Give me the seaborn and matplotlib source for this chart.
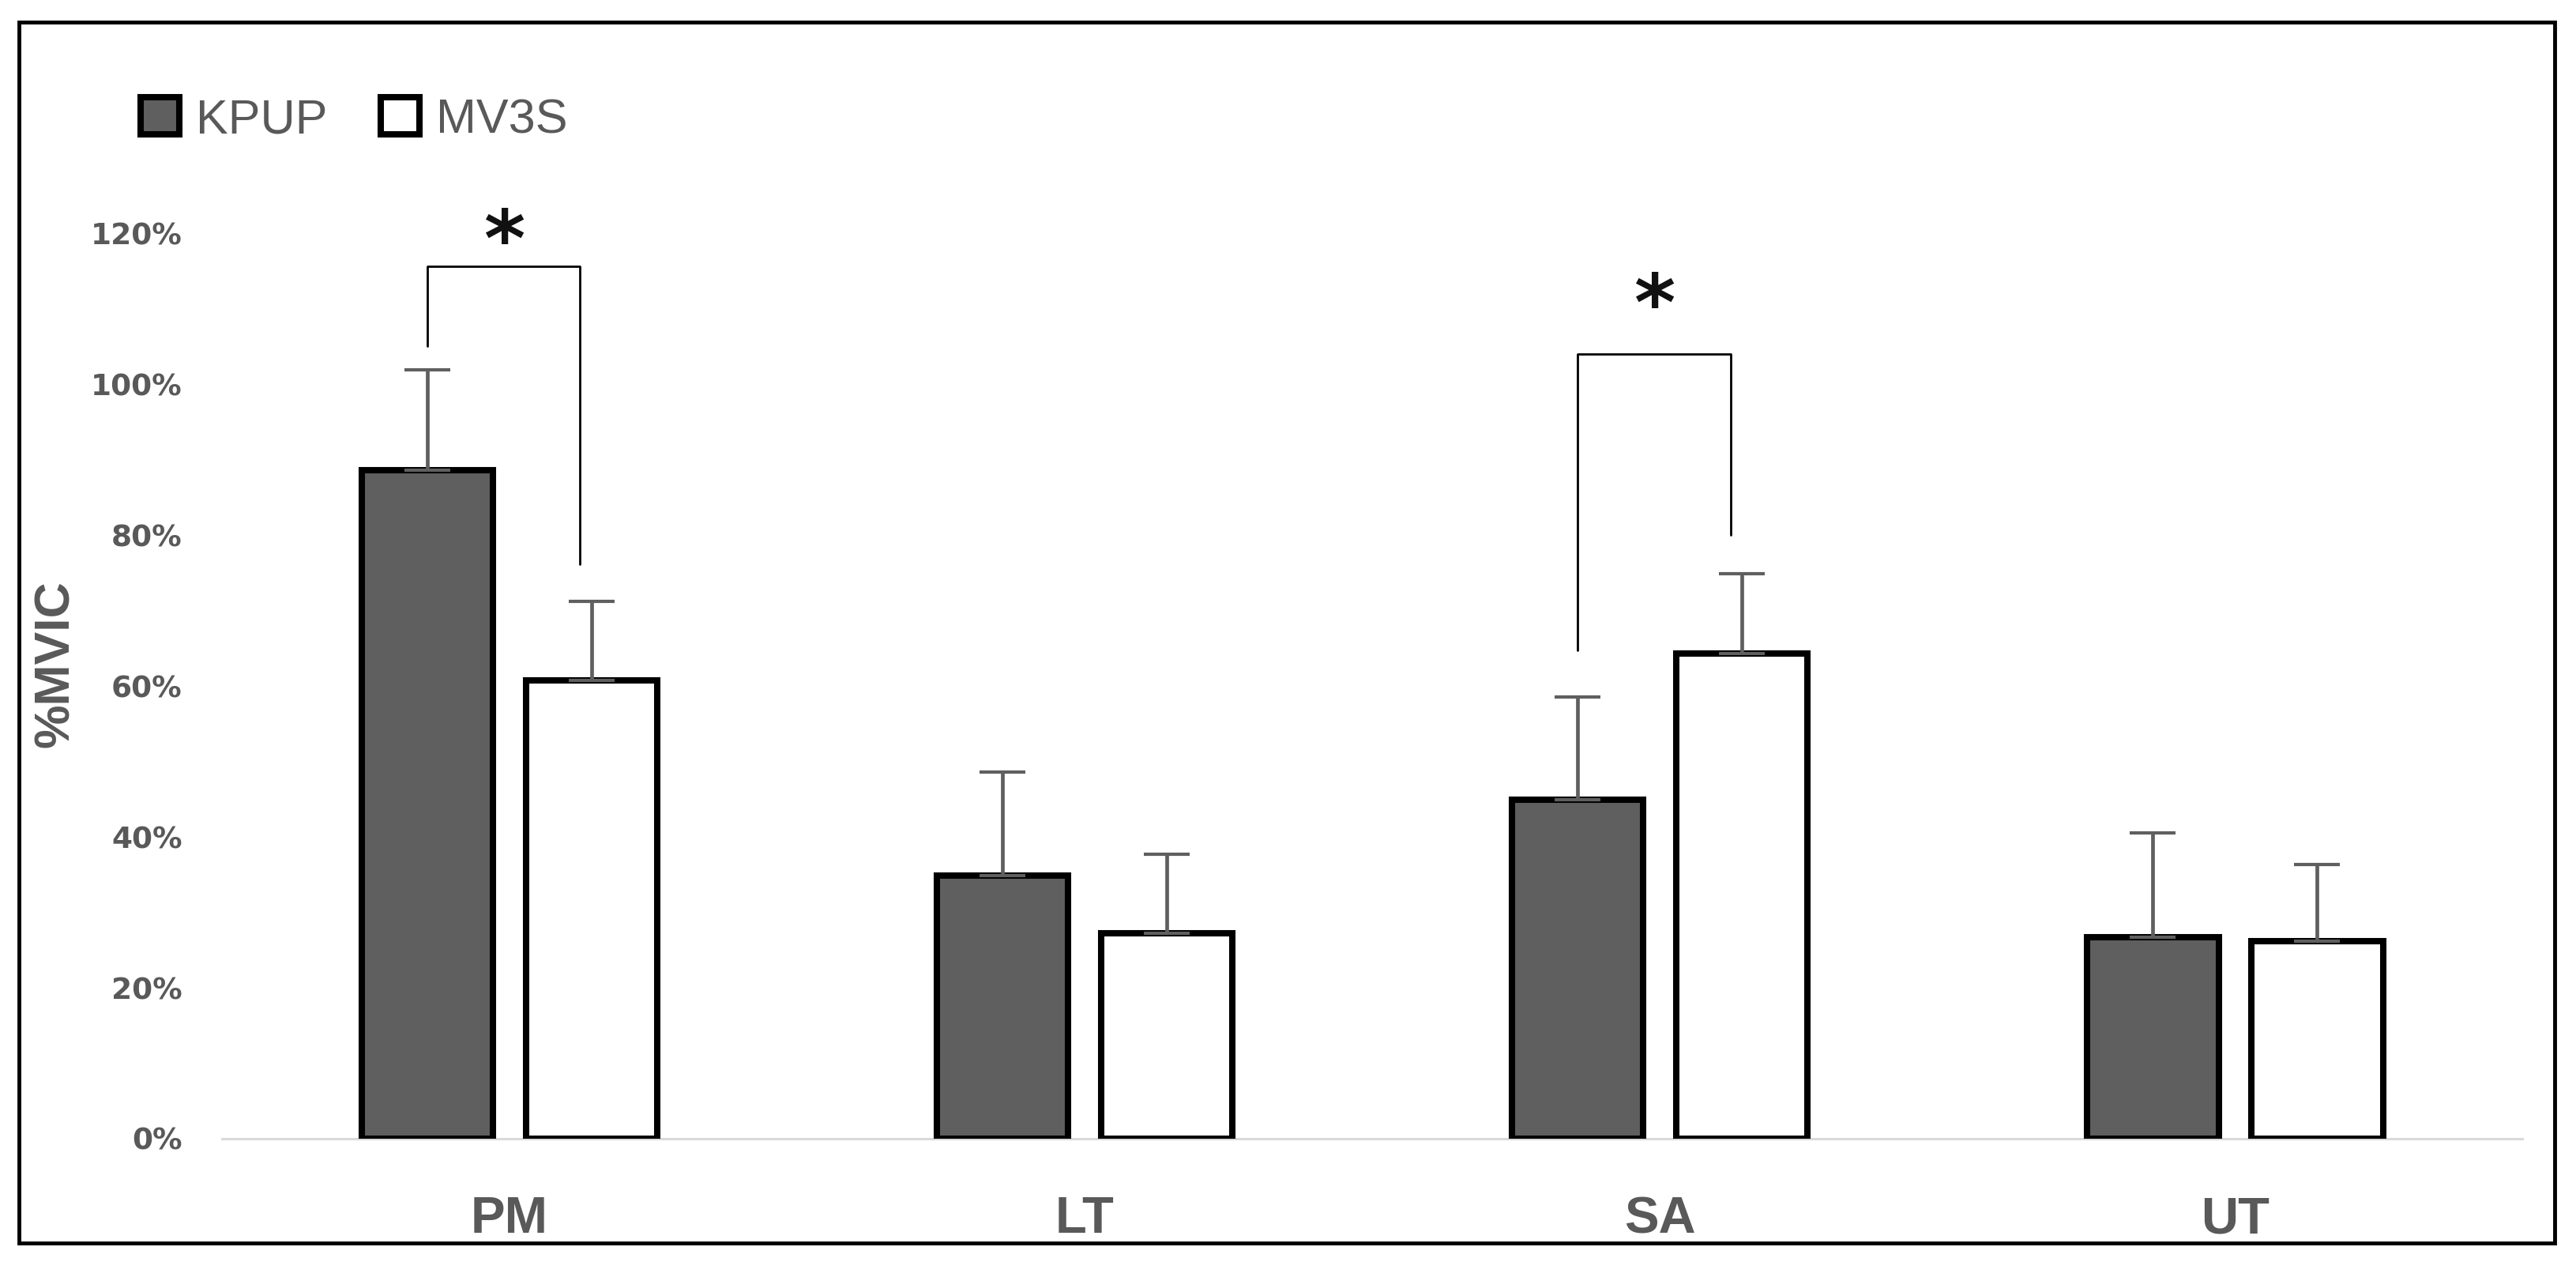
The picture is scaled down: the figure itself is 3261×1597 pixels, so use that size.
import matplotlib
import matplotlib.pyplot as plt
import pandas as pd
import seaborn as sns
from matplotlib.patches import Patch, Rectangle
from matplotlib.ticker import PercentFormatter

matplotlib.use("Agg")

# ---------------------------------------------------------------------------
# Data (fractions of MVIC)
# ---------------------------------------------------------------------------
MUSCLES   = ["PM", "LT", "SA", "UT"]
GROUPS    = ["KPUP", "MV3S"]
KPUP_MEAN = [0.886, 0.349, 0.449, 0.267]
KPUP_SD   = [0.134, 0.137, 0.137, 0.138]
MV3S_MEAN = [0.608, 0.272, 0.643, 0.262]
MV3S_SD   = [0.104, 0.105, 0.106, 0.102]

# significance brackets: category index, left foot, right foot, top, star level
SIG_IDX   = [0, 2]
SIG_LEFT  = [1.051, 0.648]
SIG_RIGHT = [0.762, 0.801]
SIG_TOP   = [1.157, 1.041]
SIG_STAR  = [1.203, 1.118]

Y_TICKS = [0, 0.2, 0.4, 0.6, 0.8, 1.0, 1.2]

TEXT_GREY = "#595959"
BAR_GREY  = "#5f5f5f"
SANS      = ["Liberation Sans", "DejaVu Sans"]

df = pd.DataFrame({
    "muscle": MUSCLES * 2,
    "group":  ["KPUP"] * len(MUSCLES) + ["MV3S"] * len(MUSCLES),
    "value":  KPUP_MEAN + MV3S_MEAN,
})
errs = {"KPUP": KPUP_SD, "MV3S": MV3S_SD}

sns.set_theme(style="white")
plt.rcParams["font.family"] = ["DejaVu Sans"]

fig = plt.figure(figsize=(32.62, 15.97), dpi=100)
ax = fig.add_axes([0.0861, 0.0977, 0.8929, 0.8366])

palette = {"KPUP": BAR_GREY, "MV3S": "white"}
sns.barplot(
    data=df, x="muscle", y="value", hue="group", order=MUSCLES, hue_order=GROUPS,
    palette=palette, width=0.571, gap=0.2, errorbar=None,
    edgecolor="black", linewidth=5.8, legend=False, ax=ax, zorder=2,
)

# one-sided error bars on top of each bar
centers = {}
for grp, cont in zip(GROUPS, ax.containers):
    xs = [p.get_x() + p.get_width() / 2 for p in cont.patches]
    ys = [p.get_height() for p in cont.patches]
    centers[grp] = xs
    ax.errorbar(
        xs, ys, yerr=[[0] * len(ys), errs[grp]], fmt="none",
        ecolor=BAR_GREY, elinewidth=3.4, capsize=21, capthick=3.0, zorder=3,
    )

# significance brackets
for i, lo_l, lo_r, top, star in zip(SIG_IDX, SIG_LEFT, SIG_RIGHT, SIG_TOP, SIG_STAR):
    xl, xr = centers["KPUP"][i], centers["MV3S"][i] - 0.02
    ax.plot([xl, xl, xr, xr], [lo_l, top, top, lo_r], color="black", lw=2, zorder=3)
    ax.text((xl + xr) / 2, star - 0.017, "*", ha="center", va="center",
            fontsize=72, fontweight="bold", color="#111111")

ax.set_xlim(-0.5, 3.5)
ax.set_ylim(0, 1.4)
ax.set_yticks(Y_TICKS)
ax.yaxis.set_major_formatter(PercentFormatter(1.0, decimals=0))
ax.tick_params(axis="y", length=0, pad=36, labelsize=27, labelcolor=TEXT_GREY)
ax.tick_params(axis="x", length=0, pad=52, labelsize=47, labelcolor=TEXT_GREY)
for lab in ax.get_yticklabels():
    lab.set_fontweight("bold")
for lab in ax.get_xticklabels():
    lab.set_fontweight("bold")
    lab.set_fontfamily(SANS)

ax.set_xlabel("")
ax.set_ylabel("%MVIC", fontsize=45, fontweight="bold", color=TEXT_GREY, family=SANS)
ax.yaxis.set_label_coords(-0.062, 0.45)

sns.despine(ax=ax, left=True, top=True, right=True)
ax.spines["bottom"].set_color("#d9d9d9")
ax.spines["bottom"].set_linewidth(2.2)
ax.spines["bottom"].set_zorder(1)

# legend
handles = [Patch(facecolor=palette[g], edgecolor="black", linewidth=5.8, label=g) for g in GROUPS]
leg = fig.legend(
    handles=handles, loc="upper left", bbox_to_anchor=(0.047, 0.938), ncol=2,
    frameon=False, handlelength=0.8, handleheight=0.8,
    handletextpad=0.35, columnspacing=1.1, borderaxespad=0,
    prop={"family": SANS, "size": 44},
)
for t in leg.get_texts():
    t.set_color(TEXT_GREY)

# outer frame around the chart
fig.patches.append(Rectangle((0.0074, 0.015), 0.984, 0.9675, transform=fig.transFigure,
                             fill=False, edgecolor="black", linewidth=3.5))

fig.savefig("out.png", dpi=100)
plt.close(fig)
